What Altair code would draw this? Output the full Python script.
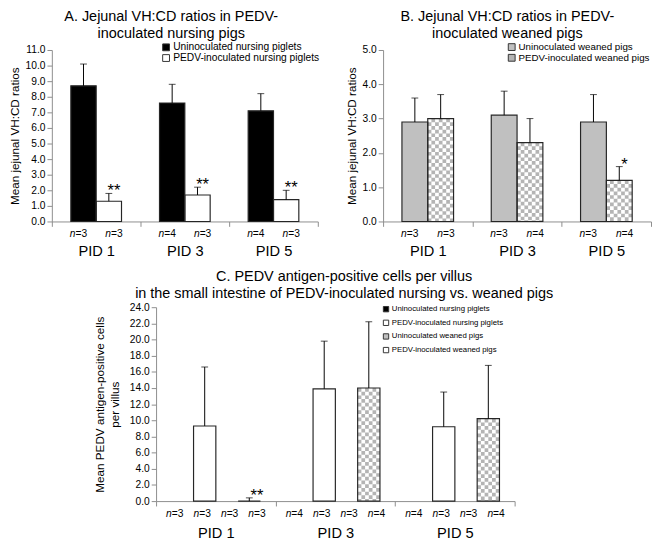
import altair as alt
import pandas as pd

FONT = "Liberation Sans"

pids = ["PID 1", "PID 3", "PID 5"]

# ---- Panel A: jejunal VH:CD, nursing pigs
a_groups = ["Uninoculated nursing piglets", "PEDV-inoculated nursing piglets"]
a_uninoc_mean = [8.7, 7.6, 7.1]
a_uninoc_sd = [1.4, 1.2, 1.1]
a_uninoc_n = [3, 4, 4]
a_pedv_mean = [1.3, 1.7, 1.4]
a_pedv_sd = [0.5, 0.5, 0.6]
a_pedv_n = [3, 3, 3]
a_pedv_sig = ["**", "**", "**"]

# ---- Panel B: jejunal VH:CD, weaned pigs
b_groups = ["Uninoculated weaned pigs", "PEDV-inoculated weaned pigs"]
b_uninoc_mean = [2.9, 3.1, 2.9]
b_uninoc_sd = [0.7, 0.7, 0.8]
b_uninoc_n = [3, 3, 3]
b_pedv_mean = [3.0, 2.3, 1.2]
b_pedv_sd = [0.7, 0.7, 0.4]
b_pedv_n = [3, 4, 4]
b_pedv_sig = ["", "", "*"]

# ---- Panel C: PEDV antigen-positive cells per villus
c_groups = ["Uninoculated nursing piglets", "PEDV-inoculated nursing piglets",
            "Uninoculated weaned pigs", "PEDV-inoculated weaned pigs"]
c_uninoc_nursing_n = [3, 4, 4]
c_pedv_nursing_mean = [9.3, 13.9, 9.2]
c_pedv_nursing_sd = [7.3, 5.9, 4.3]
c_pedv_nursing_n = [3, 3, 3]
c_uninoc_weaned_n = [3, 3, 3]
c_pedv_weaned_mean = [0.0, 14.0, 10.2]
c_pedv_weaned_sd = [0.4, 8.2, 6.6]
c_pedv_weaned_n = [3, 4, 4]
c_pedv_weaned_sig = ["**", "", ""]


def rows(group, means, sds, ns, sigs=None):
    out = []
    for i, p in enumerate(pids):
        out.append({
            "pid": p, "group": group,
            "value": None if means is None else means[i],
            "sd": None if sds is None else sds[i],
            "n": ns[i],
            "sig": "" if sigs is None else sigs[i],
        })
    return out


df_a = pd.DataFrame(rows(a_groups[0], a_uninoc_mean, a_uninoc_sd, a_uninoc_n)
                    + rows(a_groups[1], a_pedv_mean, a_pedv_sd, a_pedv_n, a_pedv_sig))
df_b = pd.DataFrame(rows(b_groups[0], b_uninoc_mean, b_uninoc_sd, b_uninoc_n)
                    + rows(b_groups[1], b_pedv_mean, b_pedv_sd, b_pedv_n, b_pedv_sig))
df_c = pd.DataFrame(rows(c_groups[0], None, None, c_uninoc_nursing_n)
                    + rows(c_groups[1], c_pedv_nursing_mean, c_pedv_nursing_sd, c_pedv_nursing_n)
                    + rows(c_groups[2], None, None, c_uninoc_weaned_n)
                    + rows(c_groups[3], c_pedv_weaned_mean, c_pedv_weaned_sd, c_pedv_weaned_n,
                           c_pedv_weaned_sig))

AXIS_GRAY = "#8c8c8c"
CHECK_GRAY = "#b4b4b4"


def panel(df, groups, fills, checker_group, checker_color, ymax, ystep, width, height,
          pad_outer, title, title_dx, ytitle, ytitle_pad, legend_x, legend_y,
          legend_font, legend_sym, legend_row_pad, ncols, cell, pid_pad):
    band = width / 3.0
    xs = alt.X("pid:N",
               scale=alt.Scale(domain=pids, paddingInner=0, paddingOuter=0),
               axis=alt.Axis(title=None, labelAngle=0, labelFontSize=15, labelFont=FONT,
                             labelColor="#000", labelPadding=pid_pad, tickBand="extent",
                             tickSize=5, domainColor=AXIS_GRAY, tickColor=AXIS_GRAY))

    def xo(shift=0.0):
        return alt.XOffset("group:N",
                           scale=alt.Scale(domain=groups, paddingOuter=pad_outer,
                                           paddingInner=0, range=[shift, band + shift]))

    nticks = int(round(ymax / ystep)) + 1
    yvals = [round(i * ystep, 3) for i in range(nticks)]
    yscale = alt.Scale(domain=[0, ymax], nice=False)
    yaxis = alt.Axis(values=yvals, format=".1f", title=ytitle, titleFont=FONT,
                     titleFontSize=12, titleFontWeight="normal", titleColor="#000",
                     titlePadding=ytitle_pad, titleLineHeight=16, labelFont=FONT,
                     labelFontSize=10.5, labelColor="#000", labelPadding=2,
                     labelOverlap=False, tickSize=5, grid=False,
                     domainColor=AXIS_GRAY, tickColor=AXIS_GRAY)

    def ycol(field):
        return alt.Y(field, scale=yscale, axis=yaxis)

    base = alt.Chart(df)
    valid = base.transform_filter("isValid(datum.value)").transform_calculate(
        top="datum.value + datum.sd")
    bars = valid.mark_bar(strokeWidth=0).encode(
        x=xs, xOffset=xo(), y=ycol("value:Q"),
        fill=alt.Fill("group:N", scale=alt.Scale(domain=groups, range=fills),
                      legend=alt.Legend(title=None, orient="none", legendX=legend_x,
                                        legendY=legend_y, symbolType="square",
                                        symbolSize=legend_sym, symbolStrokeColor="#333",
                                        symbolStrokeWidth=1, labelFont=FONT,
                                        labelFontSize=legend_font, labelColor="#000",
                                        labelOffset=2, rowPadding=legend_row_pad,
                                        padding=0)))
    layers = [bars]
    if checker_group is not None:
        chk = valid.transform_filter(alt.datum.group == checker_group)
        for i in range(ncols):
            layers.append(chk.mark_rule(
                color=checker_color, strokeWidth=cell, strokeDash=[cell, cell],
                strokeDashOffset=(cell if i % 2 else 0)).encode(
                x=xs, xOffset=xo((i - (ncols - 1) / 2.0) * cell), y=ycol("value:Q"),
                y2=alt.datum(0)))
    outline = valid.mark_bar(fillOpacity=0, stroke="#262626", strokeWidth=1.2).encode(
        x=xs, xOffset=xo(), y=ycol("value:Q"))
    err = valid.mark_rule(color="#000", strokeWidth=1).encode(
        x=xs, xOffset=xo(), y=ycol("value:Q"), y2="top:Q")
    caps = valid.mark_tick(color="#000", thickness=1, size=7).encode(
        x=xs, xOffset=xo(), y=ycol("top:Q"))
    stars = valid.mark_text(fontSize=17, font=FONT, baseline="alphabetic", dy=3,
                            color="#000").encode(
        x=xs, xOffset=xo(), y=ycol("top:Q"), text="sig:N")
    n_it = base.mark_text(fontSize=10.5, font=FONT, fontStyle="italic", align="right",
                          baseline="alphabetic", dx=-3, color="#000").encode(
        x=xs, xOffset=xo(), y=alt.value(height + 16), text=alt.value("n"))
    n_val = base.transform_calculate(nl="'=' + datum.n").mark_text(
        fontSize=10.5, font=FONT, align="left", baseline="alphabetic", dx=-3,
        color="#000").encode(
        x=xs, xOffset=xo(), y=alt.value(height + 16), text="nl:N")
    layers += [outline, err, caps, stars, n_it, n_val]
    return alt.layer(*layers).resolve_scale(xOffset="independent").properties(
        width=width, height=height,
        title=alt.TitleParams(text=title, font=FONT, fontSize=14.8, fontWeight="normal",
                              color="#000", anchor="middle", frame="group", dx=title_dx,
                              offset=2, lineHeight=17))


chart_a = panel(df_a, a_groups, ["#000000", "#ffffff"], None, None, 11, 1, 273, 176, 0.75,
                ["A. Jejunal VH:CD ratios in PEDV-", "inoculated nursing pigs"], -14,
                "Mean jejunal VH:CD ratios", 4, 112, -8, 10.5, 49, -2, 7, 3.8, 18)
chart_b = panel(df_b, b_groups, ["#c0c0c0", CHECK_GRAY], b_groups[1], "#ffffff", 5, 1, 275,
                176, 0.73, ["B. Jejunal VH:CD ratios in PEDV-", "inoculated weaned pigs"], -10,
                "Mean jejunal VH:CD ratios", 4, 127, -8, 10, 49, -1, 7, 3.8, 18)
chart_c = panel(df_c, c_groups, ["#000000", "#ffffff", "#c0c0c0", "#ffffff"], c_groups[3],
                CHECK_GRAY, 24, 2, 368, 199, 0.68,
                ["C. PEDV antigen-positive cells per villus",
                 "in the small intestine of PEDV-inoculated nursing vs. weaned pigs"], 9,
                ["Mean PEDV antigen-positive cells", "per villus"], 8, 232, -2, 8, 30, 4, 6,
                3.8, 20)

spacer = alt.Chart(pd.DataFrame({"a": [0]})).mark_point(opacity=0).properties(
    width=42, height=10)

RES = dict(x="independent", y="independent", xOffset="independent", fill="independent")

top = alt.hconcat(chart_a, chart_b, spacing=26).resolve_scale(**RES).resolve_legend(
    fill="independent")
bottom = alt.hconcat(spacer, chart_c, spacing=0).resolve_scale(**RES).resolve_legend(
    fill="independent")
chart = alt.vconcat(top, bottom, spacing=11).resolve_scale(**RES).resolve_legend(
    fill="independent").properties(
    padding={"top": -6, "left": 0, "right": 0, "bottom": 0}).configure_view(strokeWidth=0)

chart.save("out.html", embed_options={"renderer": "svg", "actions": False})
